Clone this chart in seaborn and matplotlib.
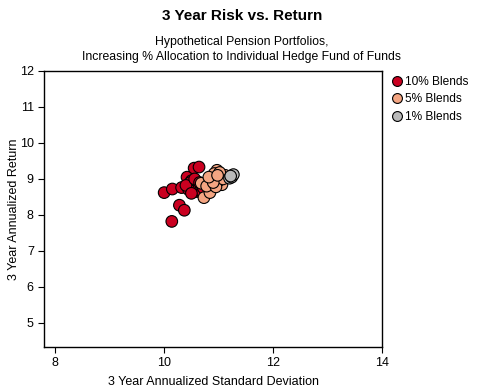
import pandas as pd
import numpy as np
import seaborn as sns
import matplotlib.pyplot as plt

# Risk / return points, one series per blend
red_x = [10.00, 10.15, 10.32, 10.42, 10.55, 10.64, 10.28, 10.37, 10.14, 10.46,
         10.50, 10.55, 10.60, 10.48, 10.52, 10.58, 10.62, 10.68, 10.70, 10.45,
         10.40, 10.56, 10.65, 10.72, 10.50]
red_y = [8.62, 8.72, 8.76, 9.05, 9.30, 9.33, 8.27, 8.13, 7.82, 8.85,
         8.95, 8.70, 8.65, 8.90, 8.78, 8.85, 8.72, 8.80, 8.62, 8.70,
         8.82, 9.00, 8.90, 8.75, 8.60]
salmon_x = [10.68, 10.73, 10.84, 10.87, 10.97, 11.03, 11.06, 11.12, 10.92, 11.00,
            10.78, 10.95, 11.08, 10.90, 10.82, 11.02, 10.98]
salmon_y = [8.88, 8.48, 8.62, 8.96, 9.24, 9.06, 8.84, 9.10, 9.15, 8.95,
            8.80, 8.78, 9.00, 8.90, 9.05, 9.18, 9.10]
gray_x = [11.20, 11.24, 11.27, 11.22]
gray_y = [9.02, 9.05, 9.12, 9.08]

series = ['10% Blends', '5% Blends', '1% Blends']
colors = ['#ca0020', '#f4a582', '#bababa']

df = pd.DataFrame({
    'x': red_x + salmon_x + gray_x,
    'y': red_y + salmon_y + gray_y,
    'blend': [series[0]] * len(red_x) + [series[1]] * len(salmon_x) + [series[2]] * len(gray_x),
})

sns.set_style('ticks')
plt.rcParams['font.family'] = ['Liberation Sans', 'DejaVu Sans']
plt.rcParams['text.color'] = 'black'
plt.rcParams['axes.labelcolor'] = 'black'

fig = plt.figure(figsize=(4.84, 3.91), dpi=100)
ax = fig.add_axes([0.0915, 0.1125, 0.698, 0.706])

sns.scatterplot(data=df, x='x', y='y', hue='blend', hue_order=series,
                palette=colors, s=70, edgecolor='black', linewidth=0.8, ax=ax)

ax.set_xlim(7.8, 14)
ax.set_ylim(4.33, 12)
ax.set_xticks([8, 10, 12, 14])
ax.set_yticks([5, 6, 7, 8, 9, 10, 11, 12])
ax.tick_params(labelsize=9, length=4, width=0.8, colors='black')
for sp in ax.spines.values():
    sp.set_linewidth(1)
    sp.set_color('black')

ax.set_xlabel('3 Year Annualized Standard Deviation', fontsize=9, va='center')
ax.set_ylabel('3 Year Annualized Return', fontsize=9, va='center')
ax.xaxis.set_label_coords(0.5, -0.127)
ax.yaxis.set_label_coords(-0.09, 0.5)

fig.text(0.5, 0.96, '3 Year Risk vs. Return', ha='center', va='center',
         fontsize=11, fontweight='bold')
fig.text(0.5, 0.873, 'Hypothetical Pension Portfolios,\nIncreasing % Allocation to Individual Hedge Fund of Funds',
         ha='center', va='center', fontsize=8.8, linespacing=1.35)

ax.legend(loc='upper left', bbox_to_anchor=(0.985, 1.012), frameon=False,
          fontsize=8.6, handletextpad=-0.35, borderaxespad=0.3, labelspacing=0.45,
          markerscale=0.85)

fig.savefig('out.png', dpi=100)
